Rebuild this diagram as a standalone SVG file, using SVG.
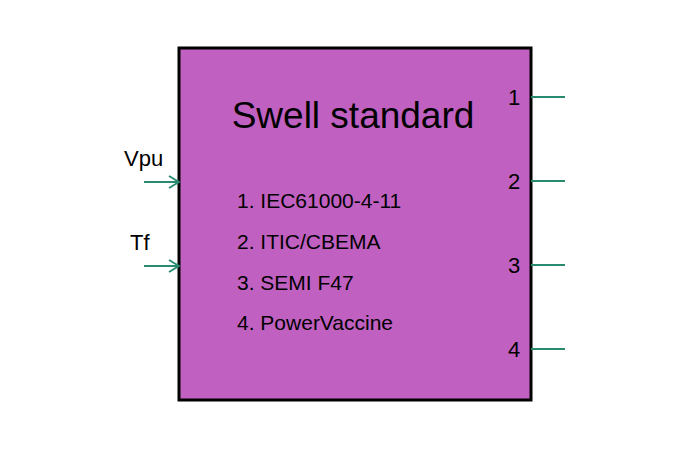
<svg xmlns="http://www.w3.org/2000/svg" width="700" height="466" viewBox="0 0 700 466">
<style>
.ln{stroke:#2a8a70;stroke-width:2;fill:none}
.t{font-family:"Liberation Sans",Arial,sans-serif;fill:#000}
</style>
<defs><marker id="a" markerWidth="12" markerHeight="14" refX="11" refY="7" orient="auto" markerUnits="userSpaceOnUse"><path d="M1,1 L11,7 L1,13" stroke="#2a8a70" stroke-width="2" fill="none"/></marker></defs>
<rect width="700" height="466" fill="#fff"/>
<g id="block">
<rect x="179" y="48" width="352" height="352" fill="#c060c0" stroke="#000" stroke-width="3"/>
<text class="t" x="353" y="128" font-size="37" text-anchor="middle">Swell standard</text>
<text class="t" x="237" y="208" font-size="21">1. IEC61000-4-11</text>
<text class="t" x="237" y="249" font-size="21">2. ITIC/CBEMA</text>
<text class="t" x="237" y="290" font-size="21">3. SEMI F47</text>
<text class="t" x="237" y="330" font-size="21">4. PowerVaccine</text>
<text class="t" x="508" y="105" font-size="22">1</text>
<text class="t" x="508" y="189" font-size="22">2</text>
<text class="t" x="508" y="273" font-size="22">3</text>
<text class="t" x="508" y="357" font-size="22">4</text>
<text class="t" x="124" y="166" font-size="22">Vpu</text>
<text class="t" x="130" y="250" font-size="22">Tf</text>
</g>
<g id="connectors">
<line class="ln" x1="144" y1="182" x2="179" y2="182" marker-end="url(#a)"/>
<line class="ln" x1="144" y1="266" x2="179" y2="266" marker-end="url(#a)"/>
<line class="ln" x1="531" y1="97" x2="565" y2="97"/>
<line class="ln" x1="531" y1="181" x2="565" y2="181"/>
<line class="ln" x1="531" y1="265" x2="565" y2="265"/>
<line class="ln" x1="531" y1="349" x2="565" y2="349"/>
</g>
</svg>
